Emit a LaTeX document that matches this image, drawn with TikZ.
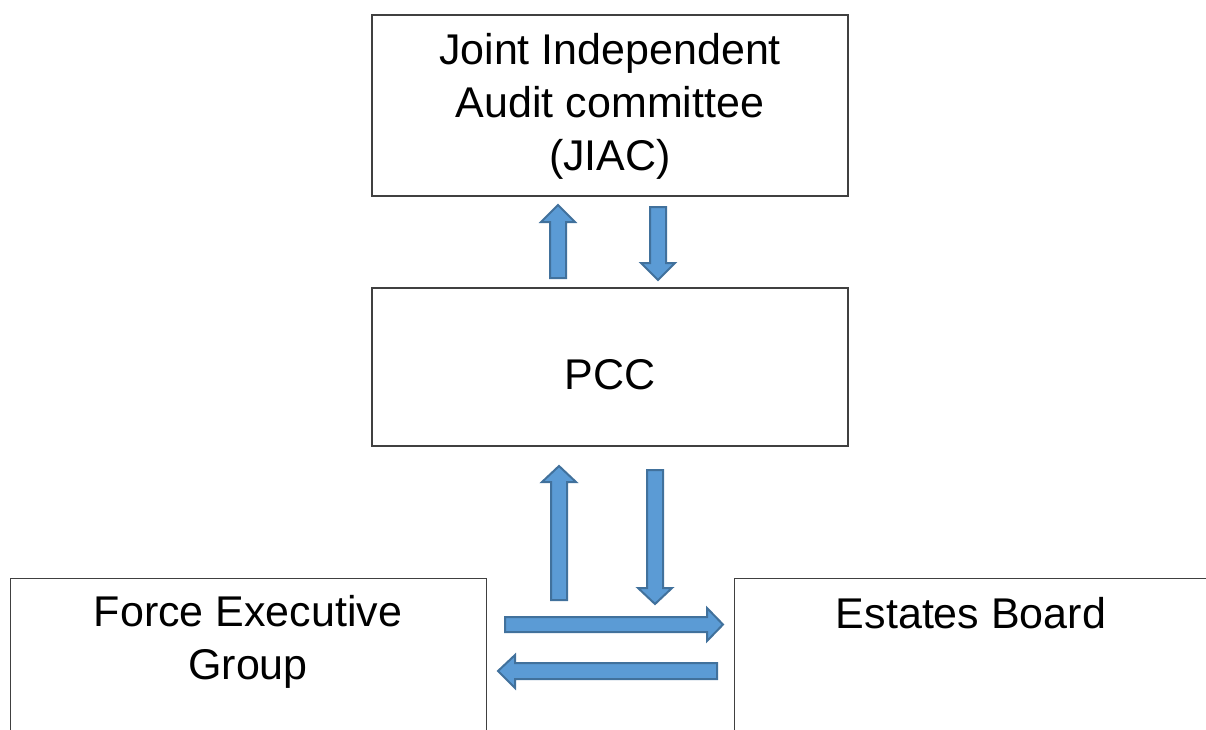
\documentclass[tikz,border=0pt]{standalone}
\usepackage{fontspec}
\setmainfont{Liberation Sans}
\definecolor{arrowfill}{HTML}{5B9BD5}
\definecolor{arrowline}{HTML}{41719C}
\begin{document}
\begin{tikzpicture}[x=1pt,y=-1pt,
  box/.style={draw=black!75, line width=1.4pt, fill=white, inner sep=0pt},
  txt/.style={align=center, font=\fontsize{43}{53}\selectfont, inner sep=0pt},
  blockarrow/.style={fill=arrowfill, draw=arrowline, line width=2pt, line join=miter}]
  \useasboundingbox (0,0) rectangle (1206,729);
  \clip (0,0) rectangle (1206,729);

  % upper boxes
  \node[box, minimum width=476pt, minimum height=181pt] (jiac) at (610,105.5) {};
  \node[txt] (jiact) at (610,106) {Joint Independent\\Audit committee\\(JIAC)};
  \node[box, minimum width=476pt, minimum height=158pt] (pcc) at (610,367) {};
  \node[txt] (pcct) at (610,375) {PCC};

  % lower boxes, running off the bottom and right edges
  \node[box, anchor=north west, minimum width=476pt, minimum height=300pt] (feg) at (10,578) {};
  \node[txt] (fegt) at (248,641.5) {Force Executive\\Group};
  \node[box, anchor=north west, minimum width=480pt, minimum height=300pt] (estates) at (734,578) {};
  \node[txt] (estatest) at (971,613) {Estates Board};

  % block arrows between JIAC and PCC
  \draw[blockarrow] (550,278) -- (550,222) -- (541,222) -- (558,205) -- (575,222) -- (566,222) -- (566,278) -- cycle;
  \draw[blockarrow] (650,207) -- (666,207) -- (666,263) -- (675,263) -- (658,280) -- (641,263) -- (650,263) -- cycle;

  % block arrows between PCC and the boards
  \draw[blockarrow] (551,600) -- (551,482) -- (542,482) -- (559,466) -- (576,482) -- (567,482) -- (567,600) -- cycle;
  \draw[blockarrow] (647,470) -- (663,470) -- (663,588) -- (672,588) -- (655,604) -- (638,588) -- (647,588) -- cycle;

  % block arrows between the two boards
  \draw[blockarrow] (505,617) -- (707,617) -- (707,608) -- (723,624.5) -- (707,641) -- (707,632) -- (505,632) -- cycle;
  \draw[blockarrow] (717,663) -- (515,663) -- (515,655) -- (498,671) -- (515,688) -- (515,679) -- (717,679) -- cycle;
\end{tikzpicture}
\end{document}
